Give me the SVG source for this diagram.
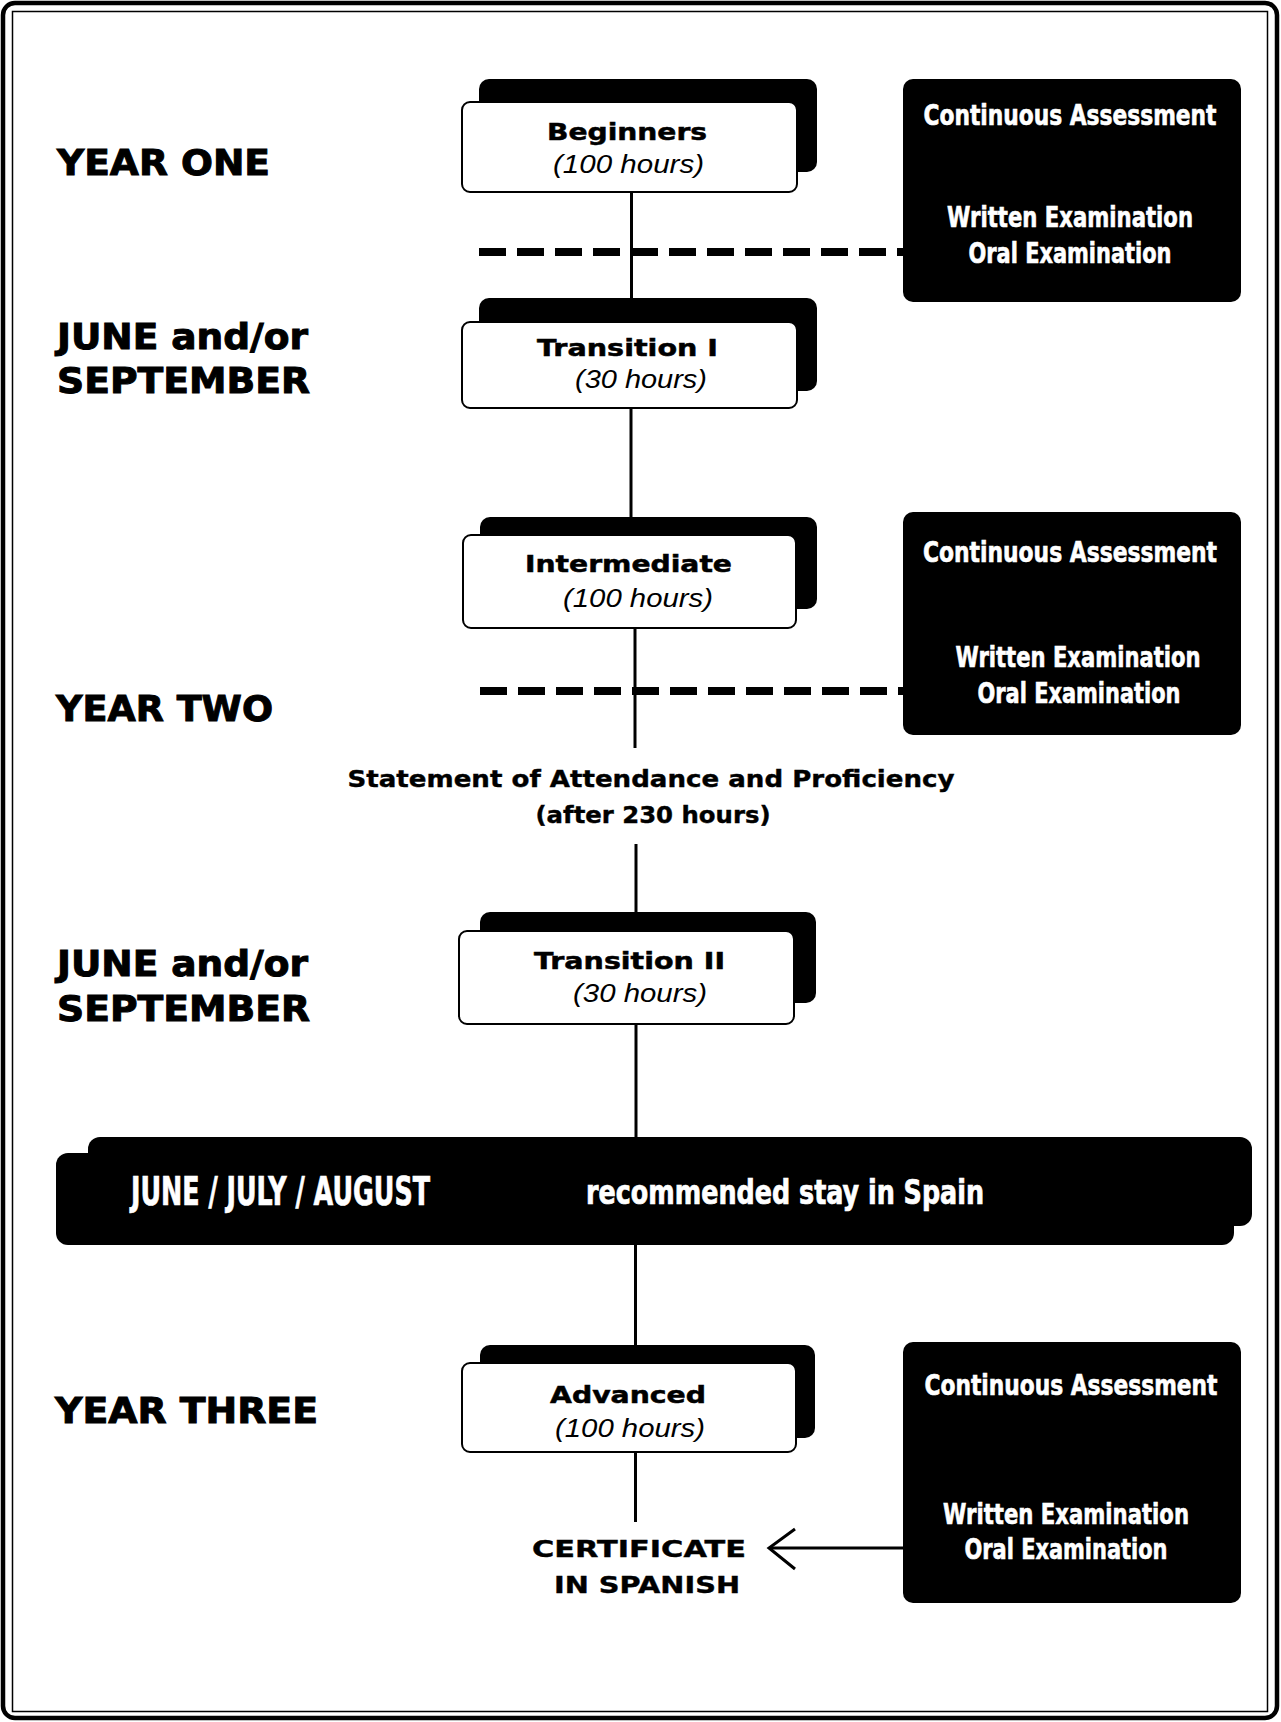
<svg xmlns="http://www.w3.org/2000/svg" width="1281" height="1722" viewBox="0 0 1281 1722">
<style>
.lbl{font-family:"DejaVu Sans","Liberation Sans",sans-serif;font-weight:bold;font-size:36px;fill:#000;stroke:#000;stroke-width:1}
.ttl{font-family:"DejaVu Sans","Liberation Sans",sans-serif;font-weight:bold;font-size:23px;fill:#000;stroke:#000;stroke-width:0.5;text-anchor:middle}
.hrs{font-family:"Liberation Sans",Arial,sans-serif;font-style:italic;font-size:25px;fill:#000;text-anchor:middle}
.wht{font-family:"DejaVu Sans Condensed","DejaVu Sans",sans-serif;font-stretch:condensed;font-weight:bold;font-size:28px;fill:#fff;stroke:#fff;stroke-width:0.6;text-anchor:middle}
.ban{font-family:"DejaVu Sans Condensed","DejaVu Sans",sans-serif;font-stretch:condensed;font-weight:bold;fill:#fff;stroke:#fff;stroke-width:0.7}
.mid{font-family:"DejaVu Sans","Liberation Sans",sans-serif;font-weight:bold;font-size:23px;fill:#000;stroke:#000;stroke-width:0.4;text-anchor:middle}
.shadow{fill:#000}
.box{fill:#fff;stroke:#000;stroke-width:2}
.blk{fill:#000}
.conn{stroke:#000;stroke-width:3;fill:none}
.dash{stroke:#000;stroke-width:8;stroke-dasharray:27 11;fill:none}
</style>
<rect x="0" y="0" width="1281" height="1722" fill="#fff"/>
<g id="border">
<rect x="3" y="3" width="1274" height="1715" rx="12" fill="none" stroke="#000" stroke-width="4.5"/>
<rect x="12.5" y="11.5" width="1255" height="1700" fill="none" stroke="#000" stroke-width="1.5"/>
</g>
<g id="labels">
<text class="lbl" x="57" y="175" textLength="213" lengthAdjust="spacingAndGlyphs">YEAR ONE</text>
<text class="lbl" x="57" y="349" textLength="251" lengthAdjust="spacingAndGlyphs">JUNE and/or</text>
<text class="lbl" x="57" y="393" textLength="253" lengthAdjust="spacingAndGlyphs">SEPTEMBER</text>
<text class="lbl" x="56" y="721" textLength="217" lengthAdjust="spacingAndGlyphs">YEAR TWO</text>
<text class="lbl" x="57" y="976" textLength="251" lengthAdjust="spacingAndGlyphs">JUNE and/or</text>
<text class="lbl" x="57" y="1021" textLength="253" lengthAdjust="spacingAndGlyphs">SEPTEMBER</text>
<text class="lbl" x="55" y="1423" textLength="263" lengthAdjust="spacingAndGlyphs">YEAR THREE</text>
</g>
<g id="connectors">
<line class="conn" x1="631.5" y1="192" x2="631.5" y2="299"/>
<line class="conn" x1="631" y1="408" x2="631" y2="518"/>
<line class="conn" x1="635" y1="628" x2="635" y2="748"/>
<line class="conn" x1="636" y1="844" x2="636" y2="913"/>
<line class="conn" x1="636" y1="1024" x2="636" y2="1138"/>
<line class="conn" x1="635.5" y1="1245" x2="635.5" y2="1346"/>
<line class="conn" x1="635.5" y1="1452" x2="635.5" y2="1522"/>
<line class="dash" x1="479" y1="252" x2="903" y2="252"/>
<line class="dash" x1="480" y1="691" x2="903" y2="691"/>
<line class="conn" x1="903" y1="1548" x2="770" y2="1548"/>
<polyline class="conn" points="795,1529 769,1548 795,1569"/>
</g>
<g id="node-beginners">
<rect class="shadow" x="479" y="79" width="338" height="93" rx="10"/>
<rect class="box" x="462" y="102" width="335" height="90" rx="8"/>
<text class="ttl" x="627" y="140" textLength="160" lengthAdjust="spacingAndGlyphs">Beginners</text>
<text class="hrs" x="628.5" y="173" textLength="151" lengthAdjust="spacingAndGlyphs">(100 hours)</text>
</g>
<g id="node-transition1">
<rect class="shadow" x="479" y="298" width="338" height="93" rx="10"/>
<rect class="box" x="462" y="322" width="335" height="86" rx="8"/>
<text class="ttl" x="627.5" y="356" textLength="181" lengthAdjust="spacingAndGlyphs">Transition I</text>
<text class="hrs" x="641" y="388" textLength="132" lengthAdjust="spacingAndGlyphs">(30 hours)</text>
</g>
<g id="node-intermediate">
<rect class="shadow" x="480" y="517" width="337" height="92" rx="10"/>
<rect class="box" x="463" y="535" width="333" height="93" rx="8"/>
<text class="ttl" x="628.5" y="572" textLength="207" lengthAdjust="spacingAndGlyphs">Intermediate</text>
<text class="hrs" x="638" y="607" textLength="150" lengthAdjust="spacingAndGlyphs">(100 hours)</text>
</g>
<g id="node-statement">
<text class="mid" x="651" y="787" textLength="607" lengthAdjust="spacingAndGlyphs">Statement of Attendance and Proficiency</text>
<text class="mid" x="653" y="823" textLength="235" lengthAdjust="spacingAndGlyphs">(after 230 hours)</text>
</g>
<g id="node-transition2">
<rect class="shadow" x="480" y="912" width="336" height="91" rx="10"/>
<rect class="box" x="459" y="931" width="335" height="93" rx="8"/>
<text class="ttl" x="629.5" y="969" textLength="191" lengthAdjust="spacingAndGlyphs">Transition II</text>
<text class="hrs" x="640" y="1002" textLength="134" lengthAdjust="spacingAndGlyphs">(30 hours)</text>
</g>
<g id="node-summer">
<rect class="blk" x="88" y="1137" width="1164" height="89" rx="12"/>
<rect class="blk" x="56" y="1153" width="1178" height="92" rx="12"/>
<text class="ban" x="131" y="1205" font-size="39" textLength="299" lengthAdjust="spacingAndGlyphs">JUNE / JULY / AUGUST</text>
<text class="ban" x="586" y="1204" font-size="33" textLength="398" lengthAdjust="spacingAndGlyphs">recommended stay in Spain</text>
</g>
<g id="node-advanced">
<rect class="shadow" x="480" y="1345" width="335" height="93" rx="10"/>
<rect class="box" x="462" y="1363" width="334" height="89" rx="8"/>
<text class="ttl" x="628" y="1403" textLength="156" lengthAdjust="spacingAndGlyphs">Advanced</text>
<text class="hrs" x="630" y="1437" textLength="150" lengthAdjust="spacingAndGlyphs">(100 hours)</text>
</g>
<g id="node-certificate">
<text class="mid" x="639" y="1557" font-size="26" textLength="214" lengthAdjust="spacingAndGlyphs">CERTIFICATE</text>
<text class="mid" x="647" y="1593" font-size="26" textLength="186" lengthAdjust="spacingAndGlyphs">IN SPANISH</text>
</g>
<g id="node-assess1">
<rect class="blk" x="903" y="79" width="338" height="223" rx="10"/>
<text class="wht" x="1070" y="125" textLength="293" lengthAdjust="spacingAndGlyphs">Continuous Assessment</text>
<text class="wht" x="1070" y="227" textLength="246" lengthAdjust="spacingAndGlyphs">Written Examination</text>
<text class="wht" x="1070" y="263" textLength="203" lengthAdjust="spacingAndGlyphs">Oral Examination</text>
</g>
<g id="node-assess2">
<rect class="blk" x="903" y="512" width="338" height="223" rx="10"/>
<text class="wht" x="1070" y="562" textLength="294" lengthAdjust="spacingAndGlyphs">Continuous Assessment</text>
<text class="wht" x="1078" y="667" textLength="245" lengthAdjust="spacingAndGlyphs">Written Examination</text>
<text class="wht" x="1079" y="703" textLength="203" lengthAdjust="spacingAndGlyphs">Oral Examination</text>
</g>
<g id="node-assess3">
<rect class="blk" x="903" y="1342" width="338" height="261" rx="10"/>
<text class="wht" x="1071" y="1395" textLength="293" lengthAdjust="spacingAndGlyphs">Continuous Assessment</text>
<text class="wht" x="1066" y="1524" textLength="246" lengthAdjust="spacingAndGlyphs">Written Examination</text>
<text class="wht" x="1066" y="1559" textLength="203" lengthAdjust="spacingAndGlyphs">Oral Examination</text>
</g>
</svg>
